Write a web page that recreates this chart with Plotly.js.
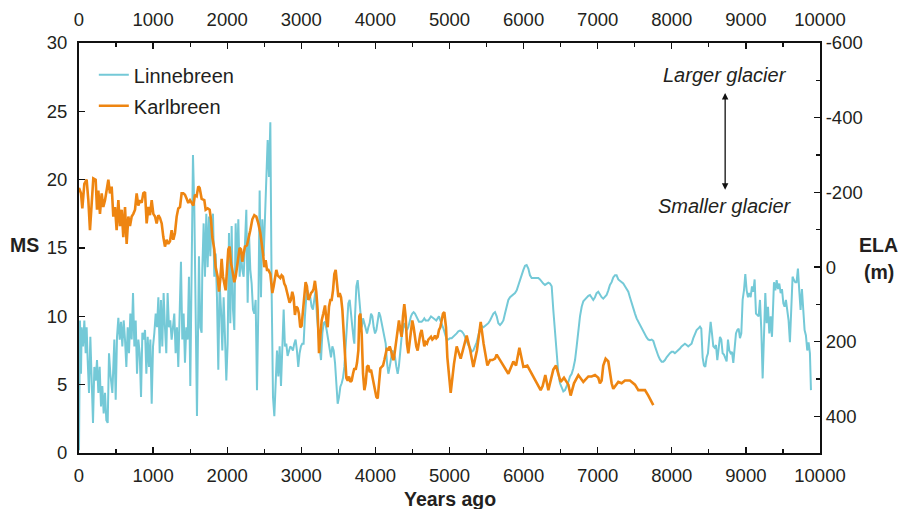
<!DOCTYPE html>
<html><head><meta charset="utf-8">
<script src="https://cdn.plot.ly/plotly-3.0.1.min.js"></script>
<style>html,body{margin:0;padding:0;background:#fff}#chart{width:901px;height:509px}</style>
</head><body><div id="chart"></div>
<script>
// ---- data ----
const seriesNames = ['Linnebreen', 'Karlbreen'];
const linYears = [0,3,13,27,36,54,72,90,103,117,135,153,171,189,207,225,243,261,279,297,315,333,351,369,387,405,423,450,477,495,513,531,549,567,585,603,621,639,657,675,693,711,729,747,765,783,801,819,837,855,873,891,909,927,945,963,981,999,1017,1035,1053,1071,1089,1106,1124,1142,1160,1178,1196,1214,1232,1250,1268,1286,1304,1322,1340,1358,1376,1394,1412,1430,1448,1466,1484,1502,1520,1538,1556,1574,1592,
1619,1637,1655,1664,1682,1700,1718,1736,1754,1772,1790,1808,1826,1844,1862,1880,1898,1916,1934,1952,1970,1988,2006,2024,2042,2060,2078,2096,2114,2132,2150,2168,2186,2204,2222,2240,2258,2276,2294,2312,2330,2348,2366,2384,2402,2420,2438,2456,2474,2492,2510,2528,2546,2564,2582,2600,2618,2636,2654,2672,2690,2708,2726,2744,2762,2779,2797,2815,2833,2851,2869,2887,2905,2923,2941,2959,2977,2995,3013,3031,3049,3067,3085,3103,3121,3139,3157,3175,3193,3211,
3230,3252,3266,3284,3302,3320,3342,3365,3387,3401,3419,3437,3455,3473,3491,3509,3527,3545,3563,3581,3599,3617,3635,3653,3671,3689,3707,3716,3725,3743,3761,3779,3797,3815,3833,3851,3869,3887,3905,3923,3941,3959,3977,3995,4013,4031,4049,4067,4085,4103,4121,4139,4157,4175,4193,4211,4229,4247,4265,4283,4301,4318,4336,4354,4372,4390,4408,4426,4444,4462,4480,4498,4516,4534,4552,4570,4588,4606,4624,4642,4660,4678,4714,4750,4786,4822,4840,4858,4876,4894,4912,4930,4939,
4962,4984,5007,5029,5052,5074,5097,5119,5142,5164,5187,5209,5232,5254,5277,5299,5322,5344,5367,5389,5412,5434,5457,5479,5502,5524,5547,5569,5592,5614,5637,5659,5682,5704,5727,5749,5772,5794,5817,5839,5862,5884,5907,5929,5952,5974,5997,6019,6041,6064,6086,6109,6131,6154,6176,6199,6221,6244,6266,6289,6311,6334,6356,6379,6401,6424,6446,6469,6491,6514,6536,6559,6581,6604,6626,6649,6671,6694,6716,6739,6761,6784,6806,6829,6851,6874,6896,
6918,6940,6963,6985,7008,7030,7053,7075,7098,7120,7143,7165,7188,7210,7233,7255,7278,7300,7323,7345,7368,7390,7413,7435,7458,7480,7503,7525,7548,7570,7593,7615,7638,7660,7683,7705,7728,7750,7773,7795,7818,7840,7863,7885,7908,7930,7953,7975,7997,8020,8042,8065,8087,8110,8132,8155,8177,8200,8222,8245,8267,8290,8312,8335,8357,
8380,8398,8416,8434,8452,8470,8488,8506,8524,8542,8560,8578,8596,8614,8632,8650,8668,8686,8704,8722,8740,8758,8776,8794,8812,8830,8848,8866,8884,8902,8920,8938,8956,8974,8992,9010,9028,9046,9064,9082,9100,9118,9136,9154,9172,9190,9208,9226,9244,9262,9280,9298,9316,9334,9352,9361,9379,9397,9415,9433,9451,9469,9487,9505,9522,9540,9558,9576,9594,9612,9630,9648,9666,9684,9702,9720,9738,9756,9774,9792,9810,9828,9846,9864,9878];
const linMS = [0.2,6.3,9.7,5.8,9.2,7.8,9.7,7.3,9.2,6.8,4.4,8.5,5.8,2.2,6.3,5.3,6.8,4.4,6.3,3.4,4.9,2.9,4.4,2.4,2.2,7.3,5.8,4.4,8.3,3.9,8.5,9.9,8.3,9.6,7.8,9.7,8.3,6.3,9.2,7.3,10.2,8.3,11.7,7.8,9.7,5.8,8.3,7.3,4.1,8.8,8.3,9.0,5.8,8.5,6.3,8.3,3.6,7.8,8.8,10.2,9.2,11.4,7.3,11.2,7.8,11.7,9.2,7.3,11.7,9.2,9.7,8.3,9.2,10.2,7.3,9.2,6.3,10.2,14.0,8.3,10.2,6.6,9.2,8.3,12.9,4.9,12.7,21.8,18.0,9.2,2.7,
14.4,9.2,8.8,13.4,16.8,12.9,17.5,13.6,17.3,14.4,17.1,17.5,12.9,14.6,11.4,6.1,12.4,10.5,7.5,11.4,8.5,5.3,8.0,16.1,9.5,16.6,10.5,9.0,16.8,13.4,17.1,12.9,14.6,13.4,12.9,15.3,17.8,11.0,16.1,13.4,12.4,10.5,10.2,11.2,4.6,10.5,19.2,11.4,17.1,14.4,17.1,19.7,22.9,20.2,24.2,11.7,4.1,2.7,4.9,7.5,5.6,7.8,4.9,8.3,10.5,7.8,8.0,7.1,7.5,7.8,7.7,7.5,8.0,8.3,7.5,6.3,7.3,7.8,8.0,8.0,10.0,11.4,11.9,11.2,11.4,10.7,10.5,11.4,11.9,10.0,
8.5,7.5,6.8,8.75,9.5,9.6,9.0,8.3,7.5,7.0,7.8,7.5,6.6,4.6,3.6,4.1,4.85,5.1,5.5,6.3,8.0,10.0,10.95,11.2,10.0,9.2,8.3,8.0,10.0,12.2,12.65,11.4,10.0,9.2,9.85,9.5,9.0,8.75,9.2,9.5,10.2,10.0,9.2,8.75,9.0,9.7,10.3,10.0,9.5,9.0,8.75,8.0,6.6,5.8,6.3,7.0,7.5,7.3,7.0,6.3,5.8,6.4,7.5,8.5,9.0,9.5,9.2,9.0,9.2,9.7,10.0,10.2,10.3,10.2,10.0,9.7,9.6,9.6,9.6,9.7,9.85,9.7,9.7,10.0,9.85,9.7,9.85,10.0,9.7,9.5,9.2,8.9,8.75,
8.3,8.3,8.4,8.4,8.5,8.6,8.75,8.9,8.95,8.9,8.75,8.5,8.1,7.9,7.7,7.4,7.5,7.8,8.1,8.6,9.1,9.3,9.2,9.3,9.4,9.5,9.7,10.0,10.2,10.3,10.0,9.5,9.36,9.5,9.7,10.2,10.7,11.2,11.4,11.5,11.56,11.7,11.9,12.3,12.65,13.0,13.4,13.7,13.75,13.5,13.0,12.8,12.8,12.85,12.85,12.8,12.7,12.5,12.4,12.3,12.36,12.46,12.4,12.2,10.46,8.75,7.0,5.8,5.1,4.7,4.5,4.6,4.85,5.2,5.6,5.8,6.2,6.8,7.8,9.0,10.0,10.7,11.1,11.24,11.4,11.5,11.56,
11.4,11.2,11.4,11.7,11.8,11.56,11.4,11.3,11.4,11.56,11.9,12.3,12.5,12.85,13.0,13.0,12.7,12.6,12.46,12.4,12.2,12.0,11.8,11.4,10.95,10.6,10.2,9.85,9.6,9.4,9.1,8.9,8.6,8.46,8.3,8.26,8.3,8.2,7.8,7.4,7.1,6.85,6.68,6.68,6.8,7.0,7.2,7.3,7.4,7.4,7.3,7.4,7.5,7.65,7.8,7.9,8.0,7.9,7.8,7.9,8.0,8.4,8.75,9.0,9.1,
9.24,9.1,7.0,6.4,6.3,7.0,7.3,8.5,9.6,8.75,7.8,7.7,7.9,6.8,7.5,8.5,8.3,7.3,7.2,6.9,6.7,8.3,7.5,7.3,7.4,6.6,7.5,8.75,9.0,9.1,8.4,8.75,11.2,11.9,13.1,11.9,11.4,11.7,11.4,12.2,11.8,12.7,10.2,10.1,10.0,11.2,9.0,5.46,8.75,11.7,9.5,10.7,8.75,10.0,8.5,9.85,12.5,11.9,12.65,12.0,12.4,11.7,12.0,10.95,10.7,11.2,10.6,9.7,8.1,10.8,12.9,12.65,12.5,12.5,13.5,11.9,10.46,12.0,10.2,9.0,8.6,7.5,8.1,7.3,4.6];

const karYears = [0,27,45,72,103,126,148,171,193,225,243,261,283,306,328,351,373,396,418,441,463,486,508,531,553,576,598,621,643,666,688,711,733,756,778,801,823,846,868,891,913,936,958,981,1003,1026,1048,1071,1093,1116,1138,1160,1183,1205,1228,1250,1273,1295,1318,1340,1363,1385,1408,1430,1453,1475,1498,1520,1543,1565,1588,1610,
1628,1655,1691,1709,1736,1763,1781,1799,1826,1844,1871,1889,1907,1925,1943,1961,1979,1997,2015,2033,2051,2069,2096,2114,2132,2150,2168,2186,2204,2222,2240,2267,2285,2312,2339,2366,2393,2420,2447,2465,2483,2501,2519,2537,2555,2582,2609,2627,2645,2663,2681,2699,2716,2734,2752,2770,2788,2806,2824,2842,2860,2878,2896,2914,2932,2950,2968,2986,3004,3022,3040,3058,3076,3094,3112,3130,3148,3166,3184,3202,3220,3239,
3257,3275,3297,3320,3342,3356,3374,3392,3410,3428,3446,3464,3482,3500,3518,3536,3554,3572,3590,3608,3626,3644,3662,3680,3698,3716,3734,3752,3770,3783,3797,3815,3833,3851,3869,3887,3905,3923,3941,3959,3977,3995,4013,4031,4049,4067,4085,4103,4121,4139,4157,4175,4193,4211,4229,4247,4265,4283,4301,4318,4336,4354,4372,4390,4408,4426,4444,4462,4480,4498,4516,4534,4552,4570,4588,4606,4624,4642,4660,4678,4696,4714,4732,4750,4768,4786,4804,4822,4840,4858,4876,4894,4912,4930,4953,4971,4998,5016,
5060,5097,5151,5190,5232,5280,5322,5370,5421,5460,5511,5547,5580,5614,5637,5682,5740,5794,5862,5898,5943,5997,6050,6090,6131,6176,6230,6257,6293,6334,6401,6437,6500,6545,6604,6635,6680,6739,6806,6874,
6918,6963,7008,7030,7053,7075,7107,7143,7165,7188,7210,7233,7278,7323,7368,7435,7503,7548,7593,7638,7683,7728,7750];
const karMS = [19.4,19.0,17.9,19.7,20.0,18.5,16.3,18.0,20.1,20.0,17.8,19.2,17.5,19.0,18.0,18.5,19.2,20.0,19.0,19.5,17.3,18.0,16.3,18.5,16.6,17.8,15.8,18.0,15.3,17.3,16.6,17.3,17.5,17.8,19.0,18.1,18.5,18.3,19.0,19.1,16.8,18.0,17.4,18.5,17.5,17.3,16.8,17.4,17.2,16.8,15.8,15.1,15.6,15.3,15.5,16.3,15.6,16.1,17.3,17.9,18.0,19.0,19.0,18.9,18.6,18.3,18.5,18.3,18.1,18.9,18.8,19.5,
19.4,18.6,18.5,17.8,17.9,17.8,17.1,15.8,14.9,13.6,12.9,11.8,12.7,14.2,12.9,12.4,11.9,13.4,14.9,15.1,13.9,13.4,12.5,12.9,13.6,14.4,15.0,14.9,14.0,14.6,15.1,15.2,15.6,16.3,17.1,17.4,17.3,16.8,16.1,15.5,14.6,13.6,14.1,13.4,13.4,13.1,11.7,12.2,12.9,13.4,13.0,12.9,12.8,13.0,12.9,12.4,12.2,11.8,11.4,11.0,11.2,11.8,11.4,10.1,10.7,10.6,10.2,9.2,9.3,10.5,11.7,12.5,12.2,11.2,11.4,11.7,11.8,12.0,12.6,11.8,10.5,7.3,
8.5,9.7,10.2,10.8,9.6,9.2,10.7,11.2,11.2,11.9,13.1,13.4,12.4,11.4,11.7,11.4,10.5,9.0,6.8,5.5,5.3,5.6,5.2,5.3,5.8,6.2,6.1,6.6,7.5,10.0,10.2,8.7,5.8,4.6,5.1,6.3,6.4,5.9,6.1,5.6,5.1,4.6,4.1,4.0,5.2,6.2,6.3,6.4,6.8,7.4,7.7,7.5,7.8,7.5,7.0,6.8,7.5,8.3,9.0,9.7,9.0,8.5,10.0,10.9,10.0,8.0,7.3,8.0,8.7,9.7,9.2,8.5,7.8,7.5,8.3,8.7,9.0,8.3,7.8,8.1,8.0,8.3,8.4,8.5,8.3,8.4,8.6,8.4,8.5,9.0,9.2,9.8,10.2,10.3,9.2,7.0,5.1,4.4,
6.5,7.8,6.9,7.8,8.6,7.5,6.3,7.5,9.6,8.0,6.4,6.8,6.8,6.9,7.2,6.8,6.3,5.8,6.7,6.4,7.7,6.3,6.4,6.0,5.5,5.1,4.6,4.9,5.7,4.6,6.1,6.4,5.2,5.5,5.0,4.2,5.1,5.7,5.2,5.6,
5.6,5.7,5.5,5.1,5.3,6.4,6.9,6.7,5.8,5.1,4.7,4.85,5.2,5.1,5.3,5.3,5.0,4.6,4.6,4.6,4.2,3.75,3.5];

const yearTicks = [0,1000,2000,3000,4000,5000,6000,7000,8000,9000,10000];
const msTicks = [0,5,10,15,20,25,30];
const elaTicks = [-600,-400,-200,0,200,400];

// ---- styling ----
const FONT = 'Arial, "Liberation Sans", Helvetica, sans-serif';
const TXT = '#231f20';
const tickFont = {family: FONT, size: 18.5, color: TXT};
const txtFont = {family: FONT, size: 20, color: TXT};
const boldFont = {family: FONT, size: 19.5, color: TXT};

const traces = [
  {x: linYears, y: linMS, name: seriesNames[0], type: 'scatter', mode: 'lines',
   line: {color: '#74c9d7', width: 2}, legendgroup: 'a', xaxis: 'x', yaxis: 'y'},
  {x: karYears, y: karMS, name: seriesNames[1], type: 'scatter', mode: 'lines',
   line: {color: '#ee8511', width: 2.6}, legendgroup: 'b', xaxis: 'x', yaxis: 'y'},
  {x: [null], y: [null], xaxis: 'x2', yaxis: 'y2', showlegend: false, hoverinfo: 'skip',
   type: 'scatter', mode: 'lines'}
];

const axBase = {showgrid: false, zeroline: false, showline: true, linecolor: '#111', linewidth: 2,
  ticks: 'inside', ticklen: 6, tickwidth: 1.3, tickcolor: '#111', tickfont: tickFont};
const minorX = {dtick: 500, ticks: 'inside', ticklen: 4, tickcolor: '#111', tickwidth: 1.2};

const layout = {
  width: 901, height: 509,
  margin: {l: 79, r: 81, t: 43, b: 56},
  paper_bgcolor: '#fff', plot_bgcolor: '#fff',
  font: {family: FONT, color: TXT},
  showlegend: true,
  legend: {x: 0.02, y: 0.97, xanchor: 'left', yanchor: 'top', bgcolor: 'rgba(0,0,0,0)',
    font: txtFont, tracegroupgap: 2},
  xaxis: Object.assign({}, axBase, {range: [0, 10000], tickmode: 'array', tickvals: yearTicks,
    ticktext: yearTicks.map(String), minor: minorX, ticklabelstandoff: 5}),
  xaxis2: Object.assign({}, axBase, {range: [0, 10000], tickmode: 'array', tickvals: yearTicks,
    ticktext: yearTicks.map(String), side: 'top', overlaying: 'x', anchor: 'y',
    minor: minorX, ticklabelstandoff: 8}),
  yaxis: Object.assign({}, axBase, {range: [0, 30], tickmode: 'array', tickvals: msTicks,
    ticktext: msTicks.map(String), ticklabelstandoff: 6}),
  yaxis2: Object.assign({}, axBase, {range: [498, -600], tickmode: 'array', tickvals: elaTicks,
    ticktext: elaTicks.map(String), side: 'right', overlaying: 'y', anchor: 'x',
    minor: {dtick: 100, ticks: 'inside', ticklen: 4, tickcolor: '#111', tickwidth: 1.2},
    ticklabelstandoff: 0}),
  annotations: [
    {xref: 'paper', yref: 'paper', x: -0.073, y: 0.507, xanchor: 'center', yanchor: 'middle',
     text: '<b>MS</b>', showarrow: false, font: boldFont},
    {xref: 'paper', yref: 'paper', x: 1.0796, y: 0.507, xanchor: 'center', yanchor: 'middle',
     text: '<b>ELA</b>', showarrow: false, font: boldFont},
    {xref: 'paper', yref: 'paper', x: 1.0796, y: 0.441, xanchor: 'center', yanchor: 'middle',
     text: '<b>(m)</b>', showarrow: false, font: boldFont},
    {xref: 'paper', yref: 'paper', x: 0.5, y: -0.112, xanchor: 'center', yanchor: 'middle',
     text: '<b>Years ago</b>', showarrow: false, font: boldFont},
    {xref: 'paper', yref: 'paper', x: 0.872, y: 0.922, xanchor: 'center', yanchor: 'middle',
     text: '<i>Larger glacier</i>', showarrow: false, font: txtFont},
    {xref: 'paper', yref: 'paper', x: 0.872, y: 0.602, xanchor: 'center', yanchor: 'middle',
     text: '<i>Smaller glacier</i>', showarrow: false, font: txtFont},
    {xref: 'paper', yref: 'paper', x: 0.872, y: 0.878, axref: 'paper', ayref: 'paper',
     ax: 0.872, ay: 0.641, text: '', showarrow: true, arrowside: 'end+start',
     standoff: 0, startstandoff: 0, borderpad: 0, font: {size: 1},
     arrowhead: 2, startarrowhead: 2, arrowsize: 1, startarrowsize: 1, arrowwidth: 1.3, arrowcolor: '#111'}
  ]
};

Plotly.newPlot('chart', traces, layout, {displayModeBar: false, staticPlot: true});
</script>
</body></html>
